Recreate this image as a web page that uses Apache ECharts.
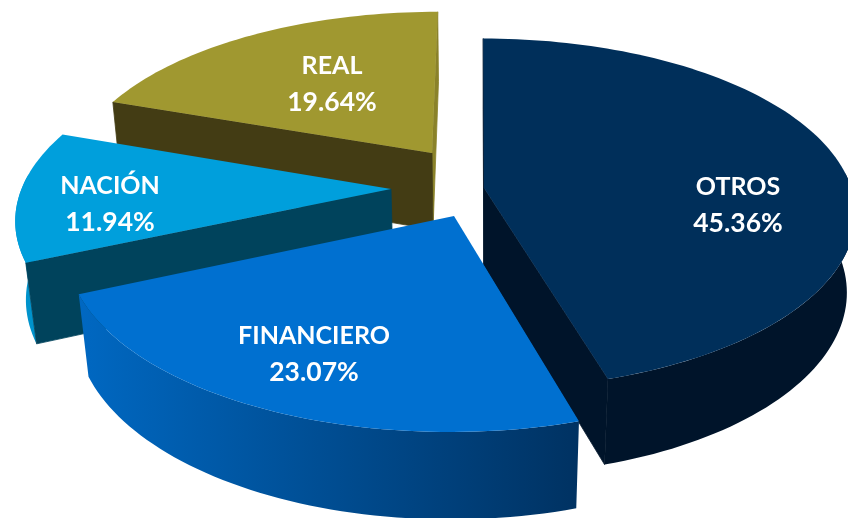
<!DOCTYPE html>
<html><head><meta charset="utf-8">
<style>html,body{margin:0;padding:0;background:#fff}#c{width:848px;height:518px}</style>
<script src="https://cdn.jsdelivr.net/npm/echarts@6/dist/echarts.min.js"></script>
</head><body><div id="c"></div>
<script>
const categories = ['OTROS', 'FINANCIERO', 'NACIÓN', 'REAL'];
const shares = [45.36, 23.07, 11.94, 19.64];
const shareLabels = ['45.36%', '23.07%', '11.94%', '19.64%'];

// styling and layout, per slice (same order as categories)
const topColors = ['#002f5a', '#0070d0', '#009fdc', '#a09830'];
const startWallColors = ['#00142a', '#003465', '#00435c', '#433c14'];
const endWallColors = ['#00142a', '#003465', '#00435c', '#8a8229'];
const rimFrom = ['#00142a', '#0068c2', '#0093cc', '#433c14'];
const rimTo = ['#00142a', '#003262', '#0093cc', '#433c14'];
const apexes = [[484, 188], [454, 216], [391, 189], [432, 153]];
const radiusScale = [1, 1.018, 1.005, 1];
const labelAt = [[738, 205], [314, 354], [110, 204], [332, 84]];
const drawOrder = [3, 2, 0, 1];

// perspective camera of the tilted disc
const X0 = 478, Y0 = 190, A = 368, B = 172, P = 0.147, Q = 0.023, T = 80;
function project(u, v, z) {
  const s = 1 / (1 + P * v + Q * z);
  return [X0 + A * u * s, Y0 + (-B * v + T * z) * s];
}
function unproject(sx, sy) {
  const w = (Y0 - sy) / B, v = w / (1 - P * w), s = 1 / (1 + P * v);
  return [(sx - X0) / (A * s), v];
}
const total = shares.reduce((a, b) => a + b, 0);
const starts = [];
shares.reduce((acc, v, i) => { starts[i] = acc / total * 360; return acc + v; }, 0);

function arc(c, r, a0, a1, z) {
  const pts = [], n = Math.max(2, Math.ceil((a1 - a0) / 1.5));
  for (let k = 0; k <= n; k++) {
    const t = (a0 + (a1 - a0) * k / n) * Math.PI / 180;
    pts.push(project(c[0] + r * Math.sin(t), c[1] + r * Math.cos(t), z));
  }
  return pts;
}
function poly(points, fill, edge) {
  return { type: 'polygon', shape: { points }, style: { fill, stroke: edge || null, lineWidth: edge ? 0.8 : 0 } };
}
function wall(c, r, a) {
  const t = a * Math.PI / 180, e = [c[0] + r * Math.sin(t), c[1] + r * Math.cos(t)];
  return [project(c[0], c[1], 0), project(e[0], e[1], 0), project(e[0], e[1], 1), project(c[0], c[1], 1)];
}
function signedArea(q) {
  let s = 0;
  q.forEach((p, k) => { const n = q[(k + 1) % q.length]; s += p[0] * n[1] - n[0] * p[1]; });
  return s;
}

function renderItem(params, api) {
  const i = api.value(1), a0 = starts[i], a1 = a0 + api.value(0) / total * 360;
  const r = radiusScale[i];
  const c = unproject(apexes[i][0], apexes[i][1]);
  const children = [];
  const r0 = Math.max(a0, 85), r1 = Math.min(a1, 275);
  if (r1 > r0) {
    const pts = arc(c, r, r0, r1, 0).concat(arc(c, r, r0, r1, 1).reverse());
    children.push(poly(pts, new echarts.graphic.LinearGradient(0, 0, 1, 0, [
      { offset: 0, color: rimFrom[i] }, { offset: 1, color: rimTo[i] }
    ])));
  }
  // only the cut faces turned towards the viewer are drawn
  const endWall = wall(c, r, a1), startWall = wall(c, r, a0);
  if (signedArea(endWall) > 0) children.push(poly(endWall, endWallColors[i], endWallColors[i]));
  if (signedArea(startWall) < 0) children.push(poly(startWall, startWallColors[i], startWallColors[i]));
  children.push(poly([project(c[0], c[1], 0)].concat(arc(c, r, a0, a1, 0)), topColors[i]));
  children.push({
    type: 'text', x: labelAt[i][0], y: labelAt[i][1],
    style: {
      text: '{n|' + categories[i] + '}\n{p|' + shareLabels[i] + '}',
      align: 'center', verticalAlign: 'middle',
      rich: {
        n: { font: 'bold 25px Lato', fill: '#fff', lineHeight: 37, align: 'center' },
        p: { font: 'bold 26.5px Lato', fill: '#fff', lineHeight: 37, align: 'center' }
      }
    }
  });
  return { type: 'group', children };
}

const chart = echarts.init(document.getElementById('c'));
chart.setOption({
  backgroundColor: '#fff',
  animation: false,
  series: [{
    type: 'custom',
    coordinateSystem: 'none',
    silent: true,
    clip: false,
    renderItem,
    encode: { value: 0 },
    data: drawOrder.map(i => ({ name: categories[i], value: [shares[i], i] }))
  }]
});
</script></body></html>
